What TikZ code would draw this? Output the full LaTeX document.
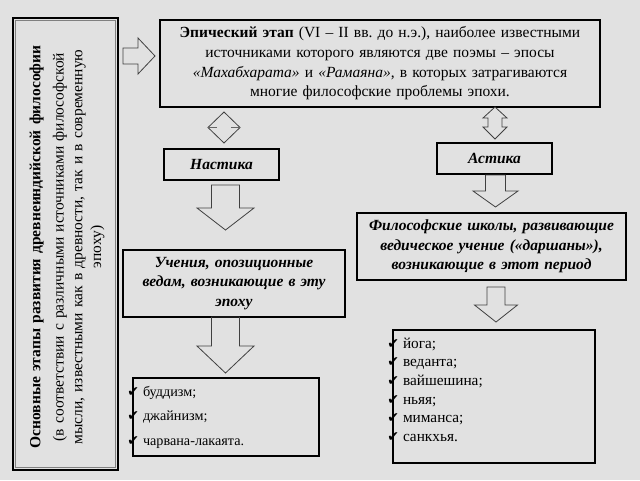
\documentclass[tikz,border=0pt]{standalone}
\usepackage{fontspec}
\setmainfont{Liberation Serif}
\newfontfamily\chkfont{DejaVu Sans}
\usetikzlibrary{calc}
\definecolor{paper}{RGB}{225,225,225}
\frenchspacing
\newcommand\chk{\leavevmode\llap{{\chkfont\fontsize{14}{14}\selectfont ✔}\hspace{4pt}}}
% x, top, bottom, half head, half shaft, head length
\newcommand\downblock[6]{\draw[blockarr] ({#1-#5},#2) -- ({#1+#5},#2) -- ({#1+#5},{#3-#6}) -- ({#1+#4},{#3-#6}) -- (#1,#3) -- ({#1-#4},{#3-#6}) -- ({#1-#5},{#3-#6}) -- cycle;}

\begin{document}
\begin{tikzpicture}[x=1pt,y=-1pt,
  box/.style={draw,line width=2pt,inner sep=0pt,align=center},
  txt/.style={font=\fontsize{15.5}{19.7}\selectfont},
  lst/.style={align=left,inner xsep=10pt},
  blockarr/.style={draw=black!75,line width=0.8pt}]
\useasboundingbox[fill=paper] (0,0) rectangle (640,480);

\node[box,minimum width=105pt,minimum height=452pt](main) at (65.5,244) {};
\draw[gray,line width=0.8pt] ($(main.south west)+(3.5,-3.5)$) rectangle ($(main.north east)+(-3.5,3.5)$);
\node[rotate=90,text width=440pt,align=center,font=\fontsize{15.5}{18.7}\selectfont](mainlbl) at (67,247)
  {\textbf{Основные этапы развития древнеиндийской философии}\\[4.5pt]
   (в соответствии с различными источниками философской\\
   мысли, известными как в древности, так и в современную\\
   эпоху)};

\node[box,txt,minimum width=440pt,minimum height=87pt,text width=436pt](epic) at (380,63.5)
  {\textbf{Эпический этап} (VI – II вв. до н.э.), наиболее известными\\
   источниками которого являются две поэмы – эпосы\\
   \textit{«Махабхарата»} и \textit{«Рамаяна»}, в которых затрагиваются\\
   многие философские проблемы эпохи.};

\node[box,txt,minimum width=115pt,minimum height=31pt](nast) at (221.5,164.5) {\textbf{\textit{Настика}}};
\node[box,txt,minimum width=115pt,minimum height=31pt](ast) at (494.5,158.5) {\textbf{\textit{Астика}}};

\node[box,txt,minimum width=222pt,minimum height=67pt,text width=218pt](uch) at (234,283.5)
  {\textbf{\textit{Учения, опозиционные\\ ведам, возникающие в эту\\ эпоху}}};
\node[box,txt,minimum width=269pt,minimum height=67pt,text width=265pt](fil) at (491.5,246.5)
  {\textbf{\textit{Философские школы, развивающие\\ ведическое учение («даршаны»),\\ возникающие в этот период}}};

\node[box,lst,font=\fontsize{14.2}{18.5}\selectfont,minimum width=186pt,minimum height=78pt,text width=166pt](lleft) at (226,417)
  {\chk буддизм;\\[6pt] \chk джайнизм;\\[6pt] \chk чарвана-лакаята.};
\node[box,lst,font=\fontsize{15.3}{18.6}\selectfont,minimum width=202pt,minimum height=133pt,text width=182pt](lright) at (494,396.5)
  {\chk йога;\\ \chk веданта;\\ \chk вайшешина;\\ \chk ньяя;\\ \chk миманса;\\ \chk санкхья.\\[-4.6pt]\mbox{}};

% block arrows
\draw[blockarr] (123,48) -- (138,48) -- (138,38) -- (155,56) -- (138,74) -- (138,64) -- (123,64) -- cycle;
\draw[blockarr] (224,112) -- (240,127.5) -- (224,143) -- (208,127.5) -- cycle;
\draw[blockarr,black!60] (208,127.5) -- (217,127.5) (231,127.5) -- (240,127.5);
\draw[blockarr] (495,107) -- (507,118) -- (502,118) -- (502,127) -- (507,127) -- (495,139)
  -- (483,127) -- (488,127) -- (488,118) -- (483,118) -- cycle;
\downblock{225.5}{185}{230}{28.5}{14}{22}
\downblock{225.5}{317}{373}{28.5}{14}{27}
\downblock{495.5}{175}{207}{22.5}{10}{16}
\downblock{496}{287}{322}{21.5}{9}{17}
\end{tikzpicture}
\end{document}
